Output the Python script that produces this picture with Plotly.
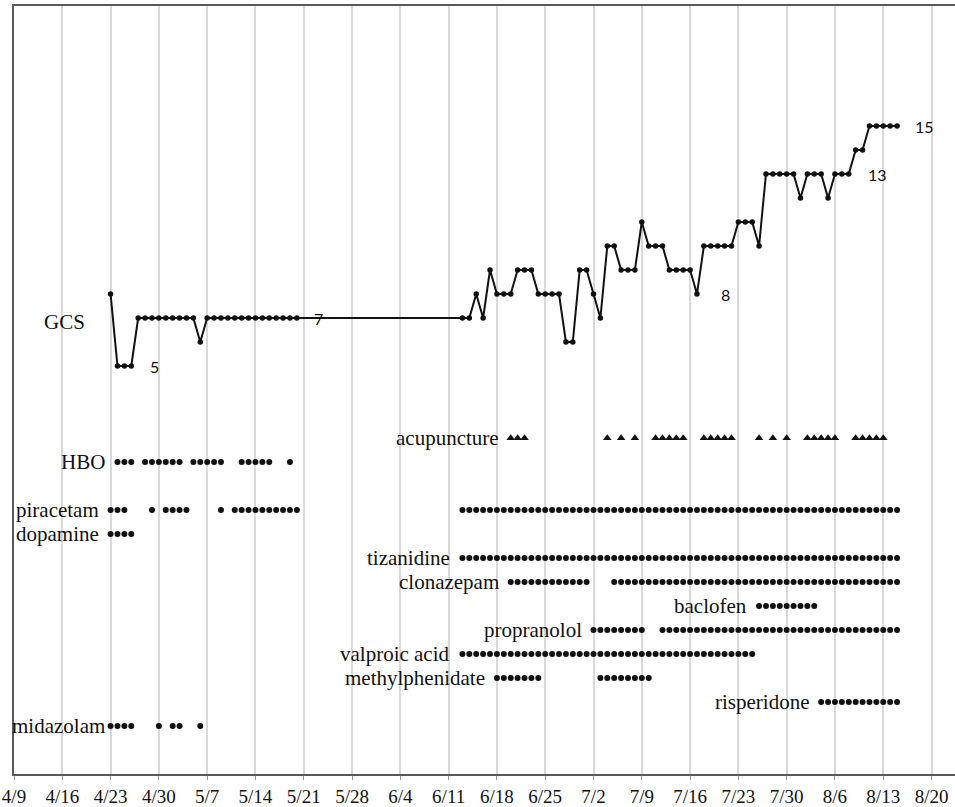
import datetime as dt
import plotly.graph_objects as go

YEAR = 2016


def day(s):
    m, d = s.split("/")
    return dt.datetime(YEAR, int(m), int(d))


def days_between(a, b):
    d0, d1 = day(a), day(b)
    return [d0 + dt.timedelta(days=i) for i in range((d1 - d0).days + 1)]


# ---- GCS score, one reading per day, two observation spells ----
gcs_spell1_start = "4/23"
gcs_spell1 = [8, 5, 5, 5, 7, 7, 7, 7, 7, 7, 7, 7, 7, 6,
              7, 7, 7, 7, 7, 7, 7, 7, 7, 7, 7, 7, 7, 7]
gcs_spell2_start = "6/13"
gcs_spell2 = [7, 7, 8, 7, 9, 8, 8, 8, 9, 9, 9, 8, 8, 8, 8, 6, 6, 9,
              9, 8, 7, 10, 10, 9, 9, 9, 11, 10, 10, 10, 9, 9, 9, 9, 8,
              10, 10, 10, 10, 10, 11, 11, 11, 10, 13, 13, 13, 13, 13,
              12, 13, 13, 13, 12, 13, 13, 13, 14, 14, 15, 15, 15, 15, 15]
gcs_labelled_days = ["4/26", "5/20", "7/17", "8/8", "8/15"]

# ---- treatment courses (first day, last day) ----
acupuncture = [("6/20", "6/22"), ("7/4", "7/4"), ("7/6", "7/6"), ("7/8", "7/8"),
               ("7/11", "7/15"), ("7/18", "7/22"), ("7/26", "7/26"),
               ("7/28", "7/28"), ("7/30", "7/30"), ("8/2", "8/6"), ("8/9", "8/13")]
hbo = [("4/24", "4/26"), ("4/28", "5/3"), ("5/5", "5/9"), ("5/12", "5/16"), ("5/19", "5/19")]
piracetam = [("4/23", "4/25"), ("4/29", "4/29"), ("5/1", "5/4"), ("5/9", "5/9"),
             ("5/11", "5/20"), ("6/13", "8/15")]
dopamine = [("4/23", "4/26")]
tizanidine = [("6/13", "8/15")]
clonazepam = [("6/20", "7/1"), ("7/5", "8/15")]
baclofen = [("7/26", "8/3")]
propranolol = [("7/2", "7/9"), ("7/12", "8/15")]
valproic_acid = [("6/13", "7/25")]
methylphenidate = [("6/18", "6/24"), ("7/3", "7/10")]
risperidone = [("8/4", "8/15")]
midazolam = [("4/23", "4/26"), ("4/30", "4/30"), ("5/2", "5/3"), ("5/6", "5/6")]

row_names = ["acupuncture", "HBO", "piracetam", "dopamine", "tizanidine", "clonazepam",
             "baclofen", "propranolol", "valproic acid", "methylphenidate",
             "risperidone", "midazolam"]
row_courses = [acupuncture, hbo, piracetam, dopamine, tizanidine, clonazepam,
               baclofen, propranolol, valproic_acid, methylphenidate,
               risperidone, midazolam]
row_levels = [2, 1, -1, -2, -3, -4, -5, -6, -7, -8, -9, -10]

week_ticks = ["4/9", "4/16", "4/23", "4/30", "5/7", "5/14", "5/21", "5/28", "6/4",
              "6/11", "6/18", "6/25", "7/2", "7/9", "7/16", "7/23", "7/30", "8/6",
              "8/13", "8/20"]

INK = "#111111"
SERIF = "Liberation Serif, Times New Roman, serif"
SANS = "Lato, Open Sans, sans-serif"

fig = go.Figure()

# GCS line
gcs_x, gcs_y = [], []
for start, vals in [(gcs_spell1_start, gcs_spell1), (gcs_spell2_start, gcs_spell2)]:
    d0 = day(start)
    for i, v in enumerate(vals):
        gcs_x.append(d0 + dt.timedelta(days=i))
        gcs_y.append(v)

fig.add_trace(go.Scatter(
    x=gcs_x, y=gcs_y, mode="lines+markers",
    line=dict(color=INK, width=2),
    marker=dict(color=INK, size=5.5, symbol="circle"),
    hoverinfo="x+y", showlegend=False,
))

# treatment rows
for name, courses, level in zip(row_names, row_courses, row_levels):
    xs = []
    for a, b in courses:
        xs.extend(days_between(a, b))
    symbol = "triangle-up" if name == "acupuncture" else "circle"
    size = 7.5 if name == "acupuncture" else 6
    fig.add_trace(go.Scatter(
        x=xs, y=[level] * len(xs), mode="markers",
        marker=dict(color=INK, size=size, symbol=symbol, line=dict(width=0)),
        name=name, showlegend=False,
    ))
    gap = 4 if name == "midazolam" else 10
    fig.add_annotation(
        x=day(courses[0][0]), y=level, text=name, showarrow=False,
        xanchor="right", yanchor="middle", xshift=-gap,
        font=dict(family=SERIF, size=21, color=INK),
    )

# series label
fig.add_annotation(
    x=day(gcs_spell1_start), y=7, text="GCS", showarrow=False,
    xanchor="right", yanchor="middle", xshift=-24, yshift=-4,
    font=dict(family=SERIF, size=21, color=INK),
)

# value labels beside selected GCS readings
value_shift = [23, 22, 29, 29, 27]
gcs_lookup = dict(zip(gcs_x, gcs_y))
for dstr, shift in zip(gcs_labelled_days, value_shift):
    v = gcs_lookup[day(dstr)]
    fig.add_annotation(
        x=day(dstr), y=v, text=str(v), showarrow=False,
        xanchor="center", yanchor="middle", xshift=shift,
        font=dict(family=SANS, size=16, color=INK),
    )

x_start = day("4/9")
x_end = x_start + dt.timedelta(days=136.4)

fig.update_layout(
    width=955, height=807,
    margin=dict(l=14, r=0, t=6, b=29),
    paper_bgcolor="white", plot_bgcolor="white",
    xaxis=dict(
        type="date", range=[x_start, x_end],
        tickmode="array", tickvals=[day(t) for t in week_ticks], ticktext=week_ticks,
        showgrid=True, gridcolor="#d9d9d9", gridwidth=1.5,
        showline=True, linecolor="#5a5a5a", linewidth=2, mirror=True,
        ticks="outside", ticklen=4, tickcolor="#9a9a9a", tickwidth=1,
        tickfont=dict(family=SERIF, size=19, color=INK),
        zeroline=False,
    ),
    yaxis=dict(
        range=[-12, 20], showgrid=False, zeroline=False, showticklabels=False,
        showline=True, linecolor="#5a5a5a", linewidth=2, ticks="",
    ),
)

fig.write_html("out.html")
